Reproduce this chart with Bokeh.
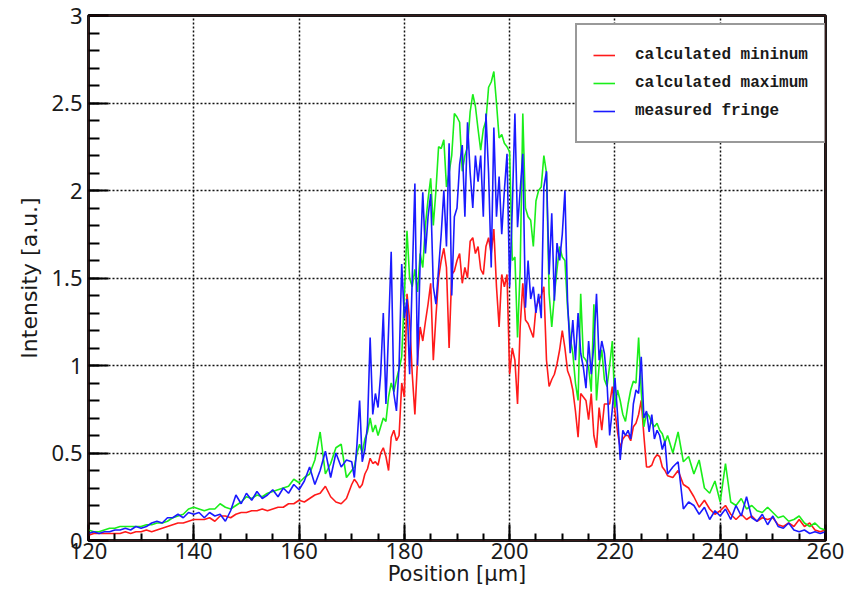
from bokeh.plotting import figure
from bokeh.models import SingleIntervalTicker, CustomJSTickFormatter, Range1d, BoxAnnotation
from bokeh.embed import file_html
from bokeh.resources import INLINE

# sampling positions (µm): 1 µm in the tails, 0.5 µm in the central part
position = list(range(120, 170)) + [170 + 0.5 * i for i in range(120)] + list(range(230, 261))

calc_min = [
    0.03,0.04,0.04,0.04,0.04,0.04,0.04,0.05,0.04,0.05,
    0.05,0.06,0.05,0.06,0.07,0.08,0.09,0.10,0.10,0.11,
    0.12,0.12,0.12,0.13,0.11,0.14,0.14,0.13,0.15,0.16,
    0.16,0.17,0.17,0.18,0.17,0.18,0.19,0.19,0.21,0.21,
    0.23,0.22,0.24,0.26,0.27,0.31,0.25,0.22,0.21,0.24,
    0.32,0.35,0.33,0.30,0.32,0.38,0.41,0.47,0.44,0.45,
    0.43,0.50,0.53,0.48,0.40,0.59,0.63,0.57,0.60,0.90,
    0.82,1.41,1.26,0.95,0.72,1.03,1.22,1.14,1.25,1.35,
    1.47,1.03,1.28,1.50,1.60,1.67,1.56,1.10,1.52,1.54,
    1.60,1.64,1.47,1.56,1.50,1.71,1.73,1.64,1.68,1.55,
    1.52,1.68,1.73,1.64,1.78,1.45,1.22,1.52,1.45,1.52,
    0.95,1.10,1.03,0.78,1.22,1.47,1.26,1.24,1.20,1.16,
    1.33,1.37,1.40,1.45,1.03,0.88,0.92,0.95,1.01,1.09,
    1.20,1.10,0.97,0.93,0.86,0.74,0.59,0.84,0.82,0.80,
    0.69,0.84,0.60,0.53,0.76,0.63,0.78,0.78,0.78,0.88,
    0.74,0.62,0.53,0.58,0.60,0.60,0.57,0.65,0.67,0.72,
    0.80,0.60,0.42,0.42,0.43,0.47,0.49,0.48,0.42,0.40,
    0.37,0.36,0.40,0.32,0.30,0.25,0.19,0.23,0.18,0.15,
    0.17,0.20,0.15,0.12,0.15,0.12,0.14,0.11,0.13,0.12,
    0.13,0.09,0.08,0.10,0.08,0.12,0.08,0.10,0.06,0.05,
    0.06,
]

calc_max = [
    0.06,0.05,0.05,0.06,0.07,0.07,0.08,0.08,0.08,0.08,
    0.08,0.09,0.09,0.10,0.10,0.11,0.13,0.14,0.15,0.18,
    0.19,0.18,0.17,0.18,0.18,0.21,0.19,0.18,0.20,0.22,
    0.25,0.24,0.26,0.25,0.27,0.28,0.29,0.30,0.31,0.35,
    0.33,0.36,0.38,0.46,0.62,0.38,0.44,0.53,0.55,0.36,
    0.40,0.42,0.50,0.55,0.50,0.58,0.62,0.70,0.62,0.66,
    0.60,0.65,0.70,0.68,0.82,0.90,0.85,0.92,0.98,1.05,
    1.40,1.77,1.50,1.45,1.55,1.42,1.64,1.56,1.80,1.95,
    2.07,1.80,2.00,2.25,2.24,2.29,2.02,2.10,2.20,2.44,
    2.42,2.39,2.11,2.20,2.25,2.45,2.55,2.48,2.35,2.23,
    2.35,2.40,2.59,2.62,2.68,2.50,2.30,2.32,2.27,2.25,
    2.22,1.60,1.62,1.16,1.55,2.44,1.90,1.85,1.83,1.68,
    1.94,2.00,2.02,2.20,2.10,1.41,1.22,1.40,1.55,1.68,
    1.62,1.60,1.33,1.16,1.07,0.90,0.80,1.41,1.05,1.03,
    0.99,0.85,1.35,0.80,1.00,1.09,0.92,0.88,1.00,1.14,
    0.76,0.86,0.80,0.72,0.68,0.78,0.86,0.91,0.90,1.16,
    0.85,0.65,0.73,0.71,0.67,0.65,0.67,0.63,0.61,0.56,
    0.60,0.50,0.62,0.45,0.48,0.38,0.46,0.30,0.27,0.34,
    0.22,0.44,0.22,0.20,0.24,0.18,0.20,0.17,0.16,0.19,
    0.16,0.13,0.14,0.11,0.12,0.14,0.10,0.08,0.10,0.07,
    0.06,
]

measured = [
    0.04,0.05,0.04,0.05,0.05,0.06,0.06,0.07,0.06,0.08,
    0.07,0.08,0.10,0.11,0.10,0.13,0.13,0.15,0.13,0.16,
    0.15,0.16,0.13,0.16,0.14,0.15,0.11,0.17,0.26,0.21,
    0.27,0.23,0.28,0.24,0.26,0.29,0.25,0.30,0.27,0.32,
    0.29,0.34,0.42,0.32,0.40,0.51,0.36,0.50,0.42,0.46,
    0.45,0.36,0.55,0.80,0.45,0.52,0.66,1.16,0.72,0.84,
    0.76,0.95,1.30,0.78,1.20,1.65,0.84,0.74,1.00,1.58,
    1.27,1.38,0.95,1.50,2.04,1.00,1.60,1.99,1.64,1.85,
    1.98,1.45,1.35,1.55,1.75,2.00,1.68,2.27,1.40,1.85,
    1.90,2.15,2.26,1.85,2.39,2.10,1.90,2.20,2.05,2.20,
    1.85,2.44,2.10,1.56,2.36,1.85,2.08,1.75,2.00,2.21,
    1.45,1.90,2.44,1.79,2.00,2.21,1.33,1.60,1.38,1.45,
    1.30,1.41,1.27,2.02,2.11,1.52,1.87,1.37,1.70,1.60,
    1.75,2.00,1.37,1.07,1.26,1.03,1.30,1.07,0.99,0.87,
    1.14,0.95,1.12,1.41,1.03,1.14,1.07,0.90,0.60,0.75,
    0.93,0.72,0.46,0.63,0.60,0.63,0.58,0.78,0.86,0.84,
    1.05,0.70,0.74,0.62,0.72,0.58,0.63,0.60,0.52,0.57,
    0.38,0.42,0.45,0.18,0.22,0.20,0.15,0.19,0.12,0.17,
    0.14,0.18,0.12,0.20,0.14,0.25,0.13,0.11,0.15,0.09,
    0.14,0.08,0.07,0.10,0.06,0.05,0.06,0.04,0.05,0.04,
    0.05,
]

labels = ["calculated mininum", "calculated maximum", "measured fringe"]
colors = ["#ff1a1a", "#1aee1a", "#1a1aff"]

p = figure(width=852, height=593, output_backend="svg", toolbar_location=None,
           x_range=Range1d(120, 260), y_range=Range1d(0, 3),
           min_border_left=88, min_border_right=27, min_border_top=15, min_border_bottom=53)
p.background_fill_color = "white"
p.border_fill_color = "white"
p.outline_line_color = "#1a1a1a"
p.outline_line_width = 3

for ys, lab, col in zip([calc_min, calc_max, measured], labels, colors):
    p.line(position, ys, line_color=col, line_width=1.6, legend_label=lab)

p.add_layout(BoxAnnotation(fill_alpha=0, line_color="#e02020", line_width=1, level="overlay"))

p.xaxis.ticker = SingleIntervalTicker(interval=20, num_minor_ticks=4)
p.yaxis.ticker = SingleIntervalTicker(interval=0.5, num_minor_ticks=5)
p.yaxis.formatter = CustomJSTickFormatter(code="return String(tick);")

for ax in (p.xaxis[0], p.yaxis[0]):
    ax.axis_line_color = None
    ax.major_tick_out = 0
    ax.minor_tick_out = 0
    ax.major_tick_line_color = "black"
    ax.minor_tick_line_color = "black"
    ax.major_tick_line_width = 2
    ax.minor_tick_line_width = 2
    ax.major_label_text_font = "Noto Sans"
    ax.major_label_text_font_size = "22px"
    ax.major_label_text_color = "#1a1a1a"
    ax.axis_label_text_font = "DejaVu Sans"
    ax.axis_label_text_font_style = "normal"
    ax.axis_label_text_color = "#1a1a1a"

p.xaxis.axis_label_text_font_size = "21px"
p.yaxis.axis_label_text_font_size = "22px"
p.xaxis.major_tick_in = 16
p.xaxis.minor_tick_in = 7
p.yaxis.major_tick_in = 20
p.yaxis.minor_tick_in = 11
p.xaxis.major_label_standoff = 2
p.xaxis.axis_label_standoff = 0
p.yaxis.major_label_standoff = 6
p.yaxis.axis_label_standoff = 6
p.xaxis.axis_label = "Position [µm]"
p.yaxis.axis_label = "Intensity [a.u.]"

for g in (p.xgrid[0], p.ygrid[0]):
    g.grid_line_color = "#111111"
    g.grid_line_dash = "2 2"
    g.grid_line_width = 1.5

leg = p.legend[0]
leg.location = (487, 397)
leg.border_line_color = "#333333"
leg.border_line_width = 2
leg.background_fill_color = "white"
leg.background_fill_alpha = 1
leg.padding = 16
leg.margin = 0
leg.spacing = 0
leg.label_height = 28
leg.glyph_height = 28
leg.glyph_width = 22
leg.label_standoff = 20
leg.label_text_font = "Liberation Mono"
leg.label_text_font_size = "16px"
leg.label_text_font_style = "bold"
leg.label_text_color = "#1a1a1a"

open("out.html", "w").write(file_html(p, INLINE))
